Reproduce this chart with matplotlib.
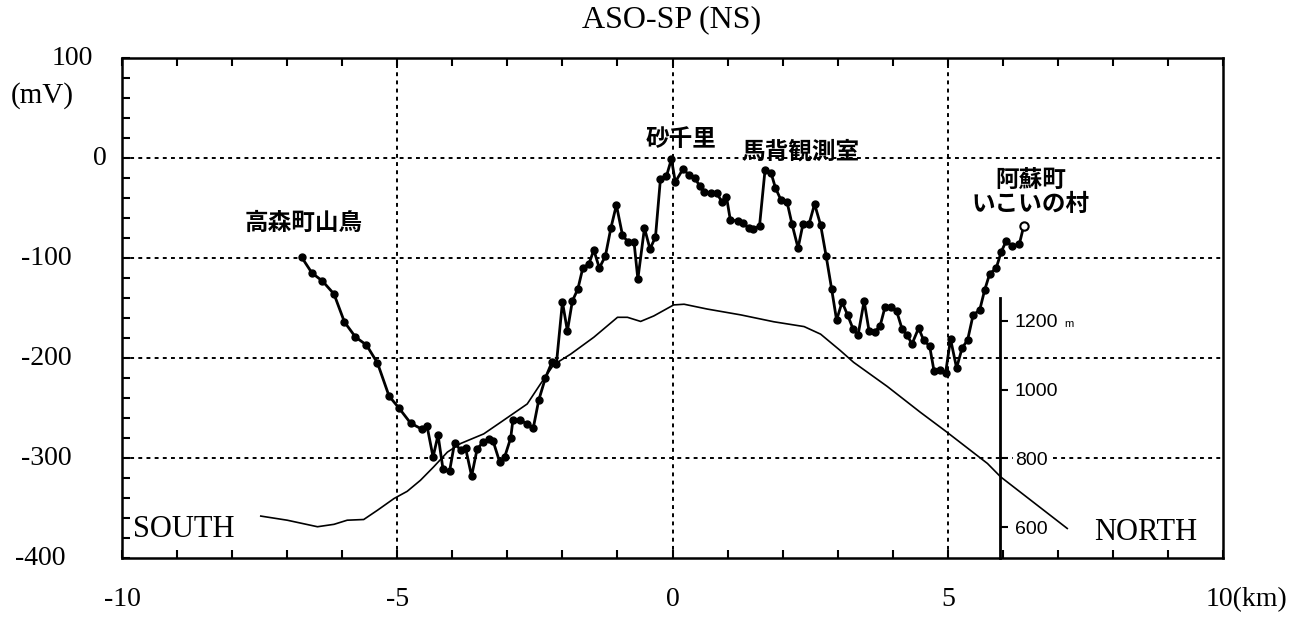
import matplotlib.pyplot as plt
from matplotlib import transforms

# self-potential profile (mV) along the NS line
dist_km = [-6.74, -6.55, -6.36, -6.15, -5.96, -5.76, -5.56, -5.36, -5.15, -4.97,
           -4.76, -4.56, -4.46, -4.35, -4.26, -4.17, -4.05, -3.96, -3.85, -3.76,
           -3.65, -3.55, -3.44, -3.34, -3.26, -3.14, -3.05, -2.94, -2.90, -2.77,
           -2.64, -2.53, -2.43, -2.31, -2.19, -2.11, -2.00, -1.91, -1.82, -1.72,
           -1.63, -1.52, -1.43, -1.33, -1.22, -1.12, -1.02, -0.91, -0.81, -0.70,
           -0.63, -0.51, -0.41, -0.31, -0.22, -0.11, -0.02, 0.05, 0.19, 0.30,
           0.41, 0.49, 0.57, 0.69, 0.80, 0.90, 0.98, 1.05, 1.19, 1.28,
           1.38, 1.47, 1.58, 1.68, 1.79, 1.87, 1.97, 2.08, 2.17, 2.28,
           2.37, 2.48, 2.58, 2.69, 2.79, 2.89, 2.98, 3.08, 3.18, 3.28,
           3.37, 3.48, 3.57, 3.67, 3.77, 3.86, 3.96, 4.07, 4.17, 4.26,
           4.35, 4.47, 4.56, 4.67, 4.75, 4.86, 4.96, 5.05, 5.16, 5.26,
           5.36, 5.46, 5.58, 5.67, 5.76, 5.88, 5.97, 6.06, 6.17, 6.30, 6.38]
sp_mv = [-99, -115, -123, -136, -164, -179, -187, -205, -238, -250,
         -265, -271, -268, -299, -277, -311, -313, -285, -292, -290,
         -318, -291, -284, -281, -283, -304, -299, -280, -262, -262,
         -266, -270, -242, -220, -204, -206, -144, -173, -143, -131,
         -110, -106, -92, -110, -98, -70, -47, -77, -84, -84,
         -121, -70, -91, -79, -21, -18, -1, -24, -11, -17,
         -20, -28, -34, -35, -35, -44, -39, -62, -63, -65,
         -70, -71, -68, -12, -15, -30, -42, -44, -66, -90,
         -66, -66, -46, -67, -98, -131, -162, -144, -157, -171,
         -177, -143, -173, -174, -168, -149, -149, -153, -171, -177,
         -186, -170, -182, -188, -213, -212, -215, -181, -210, -190,
         -182, -157, -152, -132, -116, -110, -94, -83, -88, -86, -68]

# topography (m) along the same line
topo_km = [-7.48, -7.00, -6.45, -6.15, -5.91, -5.61, -5.36, -5.06, -4.82, -4.58,
           -4.34, -4.09, -3.85, -3.43, -3.12, -2.64, -2.40, -2.16, -1.85, -1.43,
           -1.00, -0.82, -0.58, -0.34, 0.02, 0.21, 0.63, 1.24, 1.84, 2.39,
           2.69, 3.05, 3.29, 3.90, 4.50, 4.96, 5.72, 5.96, 7.17]
topo_m = [632, 620, 601, 608, 620, 622, 649, 683, 704, 736,
          775, 818, 843, 871, 905, 958, 1016, 1072, 1103, 1152,
          1210, 1210, 1198, 1214, 1246, 1248, 1234, 1217, 1197, 1183,
          1161, 1113, 1079, 1009, 934, 879, 785, 746, 596]

mv_ticks = [100, 0, -100, -200, -300, -400]
mv_labels = ["100", "0", "-100", "-200", "-300", "-400"]
km_ticks = [-10, -5, 0, 5]
km_labels = ["-10", "-5", "0", "5"]
elev_ticks = [600, 800, 1000, 1200]

serif = "Liberation Serif"
jp = ["Noto Sans CJK JP", "DejaVu Sans"]

fig = plt.figure(figsize=(13.11, 6.21), dpi=100)
ax = fig.add_axes([0.0931, 0.1014, 0.8398, 0.8052])
ax.set_xlim(-10, 10)
ax.set_ylim(-400, 100)

for s in ax.spines.values():
    s.set_linewidth(1.8)

ax.set_xticks(km_ticks + [10])
ax.set_xticks(range(-10, 11), minor=True)
ax.set_yticks(mv_ticks)
ax.set_yticks(range(-400, 101, 20), minor=True)
ax.set_xticklabels([])
ax.set_yticklabels([])
ax.tick_params(which="both", direction="in", top=True, right=True,
               length=6, width=1.5)

# dotted grid
for v in [-5, 0, 5]:
    ax.axvline(v, color="black", lw=1.4, ls=(0, (2, 2.2)), zorder=1)
for v in [0, -100, -200, -300]:
    ax.axhline(v, color="black", lw=1.4, ls=(0, (2, 2.2)), zorder=1)

# tick labels (hand placed like the original)
ylab_x = [93, 107, 72, 72, 72, 66]
ytr = transforms.blended_transform_factory(fig.transFigure, ax.transData)
for v, lab, px in zip(mv_ticks, mv_labels, ylab_x):
    ax.text(px / 1311, v, lab, transform=ytr, ha="right", va="center",
            fontsize=20, family=serif)
ax.text(42 / 1311, 62, "(mV)", transform=ytr, ha="center", va="center",
        fontsize=21, family=serif)

xtr = transforms.blended_transform_factory(ax.transData, fig.transFigure)
for v, lab in zip(km_ticks, km_labels):
    ax.text(v, 1 - 600 / 621, lab, transform=xtr, ha="center", va="center",
            fontsize=20, family=serif)
ax.text(9.68, 1 - 600 / 621, "10(km)", transform=xtr, ha="left", va="center",
        fontsize=20, family=serif)

fig.text(672 / 1311, 1 - 20 / 621, "ASO-SP (NS)", ha="center", va="center",
         fontsize=23, family=serif)

# SP profile
ax.plot(dist_km, sp_mv, color="black", lw=2, marker="o", ms=5, zorder=4)
ax.plot(dist_km[-1], sp_mv[-1], marker="o", ms=6, mfc="white", mec="black",
        mew=1.5, zorder=5)

# topography on its own scale
ax2 = ax.twinx()
ax2.set_ylim(510, 1964)
for side in ["top", "bottom", "left"]:
    ax2.spines[side].set_visible(False)
ax2.spines["right"].set_position(("data", 5.94))
ax2.spines["right"].set_bounds(510, 1267)
ax2.spines["right"].set_linewidth(2)
ax2.set_yticks(elev_ticks)
ax2.set_yticklabels([str(t) for t in elev_ticks], family="Liberation Sans",
                    fontsize=14)
ax2.tick_params(axis="y", direction="out", length=6, width=1.5, pad=5)
for t in ax2.get_yticklabels():
    t.set_bbox(dict(facecolor="white", edgecolor="none", pad=1))
ax2.plot(topo_km, topo_m, color="black", lw=1.2, zorder=3)
ax2.text(7.12, 1190, "m", fontsize=8, family="Liberation Sans", va="center")

# place names and directions
ax.text(-6.70, -65, "高森町山鳥", family=jp, fontsize=17, fontweight="bold",
        ha="center", va="center")
ax.text(0.15, 19, "砂千里", family=jp, fontsize=17, fontweight="bold",
        ha="center", va="center")
ax.text(2.33, 6, "馬背観測室", family=jp, fontsize=17, fontweight="bold",
        ha="center", va="center")
ax.text(6.5, -34, "阿蘇町\nいこいの村", family=jp, fontsize=17,
        fontweight="bold", ha="center", va="center", linespacing=0.95)
ax.text(-9.8, -371, "SOUTH", family=serif, fontsize=22, ha="left", va="center")
ax.text(7.65, -374, "NORTH", family=serif, fontsize=22, ha="left", va="center")

fig.savefig("out.png", dpi=100)
